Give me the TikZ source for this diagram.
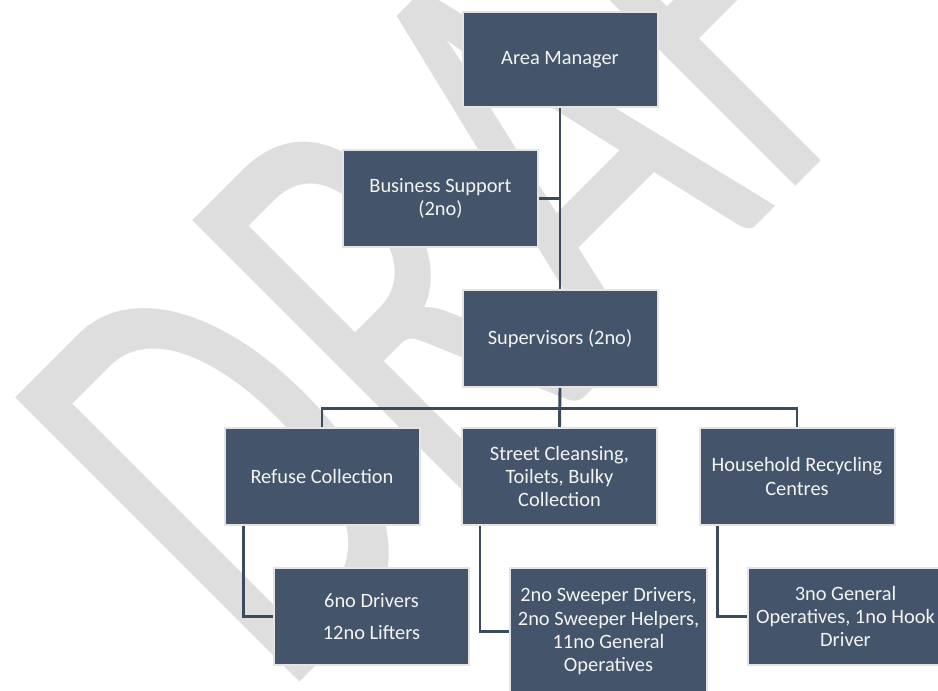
\documentclass[tikz,border=0pt]{standalone}
\usepackage{fontspec}
\setmainfont{Carlito}
\definecolor{boxfill}{HTML}{44546A}
\definecolor{boxline}{HTML}{E4E4E4}
\definecolor{boxtext}{HTML}{F4F4F4}
\definecolor{linkcol}{HTML}{3B4A5E}
\definecolor{wmgray}{HTML}{DEDEDE}
\begin{document}
\begin{tikzpicture}[x=0.75pt,y=0.75pt,
  box/.style={draw=boxline, line width=1.5pt, fill=boxfill, text=boxtext,
    align=center, inner sep=2pt, minimum width=146.25pt, minimum height=72.75pt,
    font=\fontsize{15.3}{17.5}\selectfont},
  link/.style={draw=linkcol, line width=2.2pt},
  sublink/.style={draw=linkcol, line width=2pt}
]
% page frame
\fill[white] (0,0) rectangle (938,691);
\useasboundingbox (0,0) rectangle (938,691);
\clip (0,0) rectangle (938,691);

% watermark
\begin{scope}[shift={(280,-11)}, rotate=45, xscale=3.03, yscale=4.7]
  \node[transform shape, anchor=base west, inner sep=0pt, text=wmgray,
        font=\fontsize{100}{100}\selectfont] (wm) at (0,0) {DRAFT};
\end{scope}

% boxes
\node[box, minimum height=71.25pt] (am)  at (560,631.5)   {Area Manager};
\node[box] (bs)  at (440.5,492.5) {Business Support\\(2no)};
\node[box] (sup) at (560,352.5)   {Supervisors (2no)};
\node[box] (rc)  at (322,214.5)   {Refuse Collection};
\node[box] (sc)  at (559.5,214.5) {Street Cleansing,\\Toilets, Bulky\\Collection};
\node[box] (hr)  at (797,214.5)   {Household Recycling\\Centres};
\node[box] (dr)  at (371.5,74.5)  {6no Drivers\\[6pt]12no Lifters};
\node[box, minimum height=95.25pt, minimum width=147.75pt] (sw) at (608.5,59.5)
  {2no Sweeper Drivers,\\2no Sweeper Helpers,\\11no General\\Operatives};
\node[box] (hc)  at (845.5,74.5)  {3no General\\Operatives, 1no Hook\\Driver};

% connectors
\coordinate (bus) at (560,282.7);
\draw[link] (am.south) -- (sup.north);
\draw[link] (bs.east) -- (bs.east -| am.south);
\draw[link] (sup.south) -- (sc.north);
\draw[link] (rc.north) |- (bus) -| (hr.north);
\draw[sublink] ([xshift=15pt]rc.south west) |- (dr.west);
\draw[sublink] ([xshift=14.25pt]sc.south west) |- (sw.west);
\draw[sublink] ([xshift=14pt]hr.south west) |- (hc.west);
\end{tikzpicture}
\end{document}
